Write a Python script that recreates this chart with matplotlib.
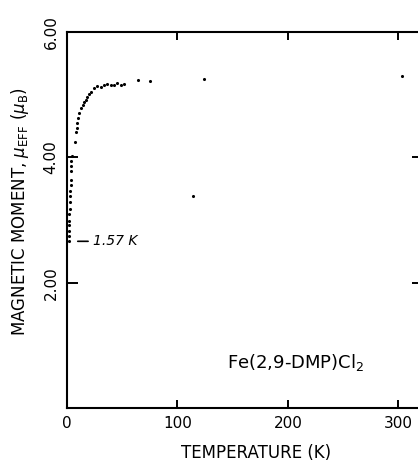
import matplotlib
matplotlib.use("Agg")
import matplotlib.pyplot as plt

# Data (temperature K, effective magnetic moment in Bohr magnetons)
temperature = [1.57, 1.7, 1.8, 1.9, 2.0, 2.2, 2.4, 2.6, 2.8, 3.0, 3.2, 3.4, 3.6, 3.8, 4.0, 4.3,
               7.0, 7.9, 8.8, 9.4, 10.0, 10.9, 12.9, 14.5, 15.4, 16.9, 18.4, 19.9, 22.0,
               24.4, 27.4, 30.5, 33.5, 36.5, 39.5, 42.5, 45.5, 48.6, 51.6, 64.0, 75.0,
               114.0, 124.0, 303.0]
moment = [2.66, 2.75, 2.83, 2.92, 2.98, 3.09, 3.18, 3.28, 3.38, 3.47, 3.56, 3.64, 3.78, 3.86, 3.94, 4.02,
          4.24, 4.40, 4.47, 4.55, 4.62, 4.70, 4.78, 4.83, 4.88, 4.92, 4.96, 5.01, 5.05,
          5.10, 5.14, 5.13, 5.15, 5.17, 5.15, 5.15, 5.18, 5.15, 5.17, 5.23, 5.22,
          3.38, 5.25, 5.30]

x_ticks = [0, 100, 200, 300]
x_ticklabels = ["0", "100", "200", "300"]
y_ticks = [2, 4, 6]
y_ticklabels = ["2.00", "4.00", "6.00"]

W, H = 418, 461
fig = plt.figure(figsize=(W / 100, H / 100), dpi=100)
ax = fig.add_axes([67 / W, (H - 408) / H, 356 / W, 376 / H])

ax.scatter(temperature, moment, s=5, color="black", linewidths=0, zorder=3, clip_on=False)

ax.set_xlim(0, 322.2)
ax.set_ylim(0, 6)
ax.set_xticks(x_ticks)
ax.set_xticklabels(x_ticklabels, fontsize=11)
ax.set_yticks(y_ticks)
ax.set_yticklabels(y_ticklabels, fontsize=11, rotation=90, va="center")

ax.tick_params(axis="both", direction="in", length=6, width=1.4,
               top=True, right=True, pad=6, colors="black")
ax.tick_params(axis="y", which="major", right=True, length=8)
# hide the tick marks at the corners
ax.xaxis.get_major_ticks()[0].tick1line.set_visible(False)
ax.xaxis.get_major_ticks()[0].tick2line.set_visible(False)
ax.yaxis.get_major_ticks()[2].tick1line.set_visible(False)
ax.yaxis.get_major_ticks()[2].tick2line.set_visible(False)

for sp in ax.spines.values():
    sp.set_linewidth(1.5)

ax.annotate("1.57 K", xy=(temperature[0], moment[0]), xytext=(23.5, moment[0]),
            fontsize=10, fontstyle="italic", va="center", ha="left",
            arrowprops=dict(arrowstyle="-", color="black", lw=1.2, shrinkA=1.5, shrinkB=6.5))

ax.text(145, 0.64, r"Fe(2,9-DMP)Cl$_2$", fontsize=13, ha="left", va="baseline")

fig.text(20 / W, 1 - 212 / H, r"MAGNETIC MOMENT, $\mu_{\rm EFF}$ ($\mu_{\rm B}$)",
         rotation=90, ha="center", va="center", fontsize=12)
fig.text(256 / W, 1 - 453 / H, "TEMPERATURE (K)", ha="center", va="center", fontsize=12)

fig.savefig("out.png", dpi=100)
